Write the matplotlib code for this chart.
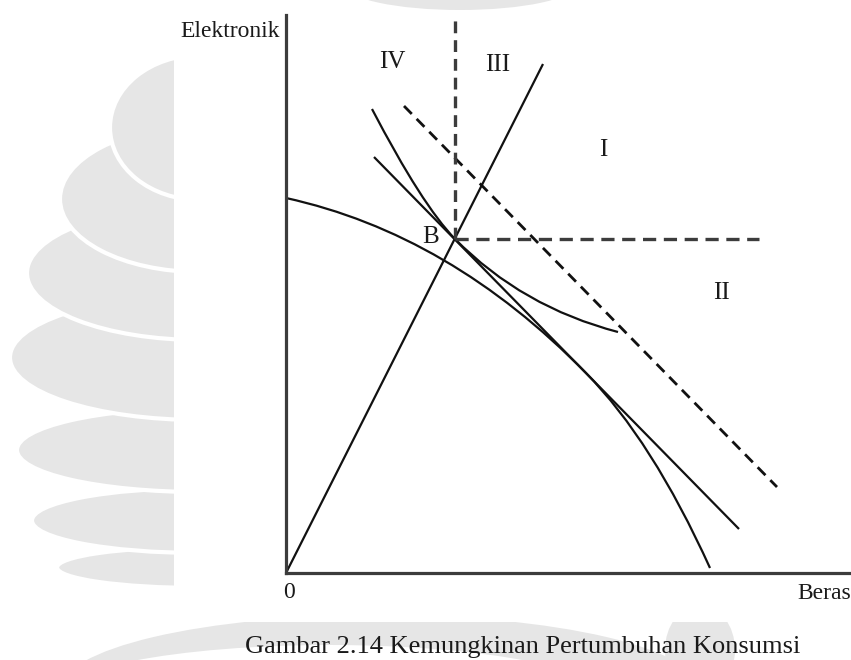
import matplotlib
matplotlib.use("Agg")
import matplotlib.pyplot as plt
from matplotlib.path import Path
from matplotlib.patches import PathPatch, Ellipse, Rectangle

plt.rcParams['font.family'] = ['Liberation Serif', 'DejaVu Serif']
plt.rcParams['lines.scale_dashes'] = False

# data (in axis units)
ray_x = [0, 257]
ray_y = [0, 509]

budget_x = [88, 453]
budget_y = [416, 44]

budget2_x = [118, 491]
budget2_y = [467, 86]

b_x, b_y = 169, 334
vdash_y = [334, 553]
hdash_x = [169, 473]

# control points of the curves (quadratic bezier segments)
ppf_pts = [(0, 375), (164, 339), (300, 200), (366, 133), (424, 5)]
ic_pts = [(86, 464), (136, 368), (169, 334), (236, 266), (332, 241)]

region_labels = ["IV", "III", "I", "II"]
region_x = [106, 212, 317, 435]
region_y = [505, 502, 417, 274]

caption = "Gambar 2.14 Kemungkinan Pertumbuhan Konsumsi"

W, H = 851, 660
fig = plt.figure(figsize=(W / 100, H / 100), dpi=100)
fig.patch.set_facecolor("white")

#%% faint watermark of the scan
bg = fig.add_axes([0, 0, 1, 1], zorder=0)
bg.set_xlim(0, W)
bg.set_ylim(H, 0)
bg.axis("off")
wm = "#e6e6e6"
lobes = [  # (left, top, bottom)
    (57, 547, 588),
    (32, 488, 553),
    (17, 408, 492),
    (10, 295, 420),
    (27, 206, 340),
    (60, 126, 272),
    (110, 55, 200),
]
for left, top, bottom in lobes:
    bg.add_patch(Ellipse((200, (top + bottom) / 2), 2 * (200 - left), bottom - top,
                         facecolor=wm, edgecolor="white", lw=3))
bg.add_patch(Ellipse((380, 690), 640, 150, facecolor=wm, edgecolor="none"))
bg.add_patch(Ellipse((330, 700), 560, 110, facecolor="white", edgecolor="none"))
bg.add_patch(Ellipse((700, 650), 70, 90, facecolor=wm, edgecolor="none"))
bg.add_patch(Ellipse((460, -15), 230, 50, facecolor=wm, edgecolor="none"))
bg.add_patch(Rectangle((174, 12), W - 174, 622 - 12, facecolor="white", edgecolor="none"))

#%% main diagram
ax = fig.add_axes([286 / W, (H - 573) / H, 565 / W, 558 / H], zorder=1)
ax.set_facecolor("none")
ax.set_xlim(0, 565)
ax.set_ylim(0, 558)
ax.set_xticks([])
ax.set_yticks([])
for s in ["top", "right"]:
    ax.spines[s].set_visible(False)
for s in ["left", "bottom"]:
    ax.spines[s].set_color("#3c3c3c")
    ax.spines[s].set_linewidth(2.3)

ink = "#111111"
lw = 1.6

ax.plot(ray_x, ray_y, color=ink, lw=lw, solid_capstyle="butt")
ax.plot(budget_x, budget_y, color=ink, lw=lw, solid_capstyle="butt")
ax.plot(budget2_x, budget2_y, color=ink, lw=2.0, linestyle=(0, (8, 5)))
ax.plot([b_x, b_x], vdash_y, color="#3c3c3c", lw=2.4, linestyle=(0, (8.5, 5)))
ax.plot(hdash_x, [b_y, b_y], color="#3c3c3c", lw=2.4, linestyle=(0, (9.5, 5.5)))

codes = [Path.MOVETO, Path.CURVE3, Path.CURVE3, Path.CURVE3, Path.CURVE3]
ax.add_patch(PathPatch(Path(ppf_pts, codes), facecolor="none", edgecolor=ink, lw=lw))
ax.add_patch(PathPatch(Path(ic_pts, codes), facecolor="none", edgecolor=ink, lw=lw))

txt = "#1a1a1a"
for lab, x, y in zip(region_labels, region_x, region_y):
    ax.text(x, y, lab, ha="center", va="baseline", fontsize=18, color=txt)
ax.text(b_x - 24.5, 330, "B", ha="center", va="baseline", fontsize=18, color=txt)

ax.text(-6, 536, "Elektronik", ha="right", va="baseline", fontsize=17, color=txt, clip_on=False)
ax.text(3.5, -25, "0", ha="center", va="baseline", fontsize=17, color=txt, clip_on=False)
ax.text(511, -26, "Beras", ha="left", va="baseline", fontsize=17, color=txt, clip_on=False)

fig.text(523 / W, (H - 653) / H, caption, ha="center", va="baseline", fontsize=19, color=txt)

fig.savefig("out.png", dpi=100)
